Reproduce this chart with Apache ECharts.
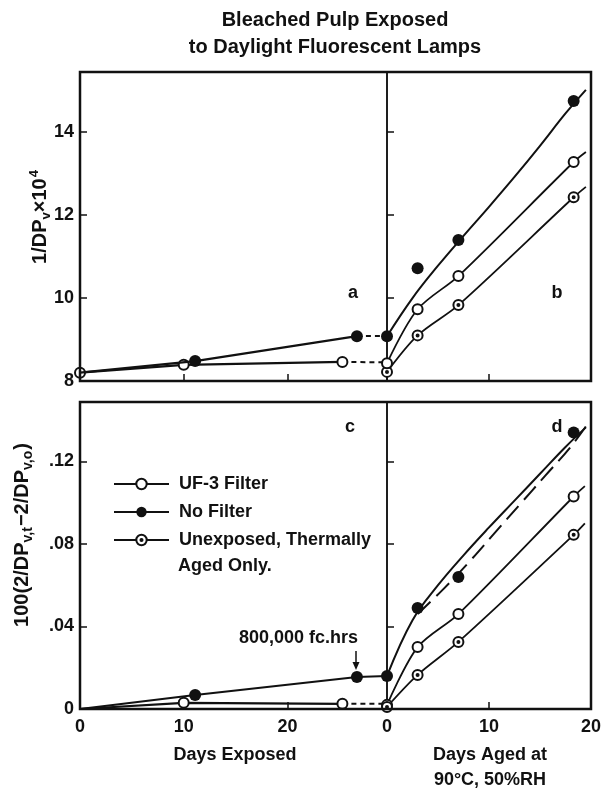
<!DOCTYPE html>
<html><head><meta charset="utf-8">
<script src="https://cdn.jsdelivr.net/npm/echarts@6/dist/echarts.min.js"></script>
<style>html,body{margin:0;padding:0;background:#fff}#c{width:609px;height:793px}</style>
</head><body><div id="c"></div>
<script>
// ---------------- DATA ----------------
// x: days exposed (left halves), days aged at 90°C, 50% RH (right halves)
const exposedMax = 29.6;
const agedMax = 20;
const topYMin = 8, topYMax = 15.45;
const botYMin = 0, botYMax = 0.1488;

// Panel a: 1/DPv x 10^4 vs days exposed
const aUF3 = [[0, 8.2], [10, 8.39], [25.3, 8.46]];
const aUF3Tail = [[25.3, 8.46], [29.6, 8.45]];
const aNoFilter = [[0, 8.2], [11.1, 8.48], [26.7, 9.08]];
const aNoFilterTail = [[26.7, 9.08], [29.6, 9.09]];

// Panel b: 1/DPv x 10^4 vs days aged
const bNoFilterPts = [[0, 9.08], [3, 10.72], [7, 11.4], [18.3, 14.75]];
const bNoFilterFit = [[0, 9.08], [2.5, 10.0], [5, 10.78], [7.5, 11.5], [10, 12.2], [12.5, 12.92], [15, 13.67], [17.5, 14.45], [19.5, 15.02]];
const bUF3 = [[0, 8.43], [3, 9.73], [7, 10.53], [18.3, 13.28]];
const bUF3End = [19.5, 13.52];
const bUnexposed = [[0, 8.22], [3, 9.1], [7, 9.83], [18.3, 12.43]];
const bUnexposedEnd = [19.5, 12.68];

// Panel c: 100(2/DPv,t - 2/DPv,o) vs days exposed
const cNoFilter = [[0, 0], [11.1, 0.0068], [26.7, 0.0155]];
const cNoFilterTail = [[26.7, 0.0155], [29.6, 0.016]];
const cUF3 = [[0, 0], [10, 0.003], [25.3, 0.0025]];
const cUF3Tail = [[25.3, 0.0025], [29.6, 0.0025]];

// Panel d: 100(2/DPv,t - 2/DPv,o) vs days aged
const dNoFilterPts = [[0, 0.016], [3, 0.049], [7, 0.064], [18.3, 0.134]];
const dNoFilterFit = [[0, 0.016], [2.5, 0.043], [5, 0.06], [7.5, 0.0745], [10, 0.088], [12.5, 0.101], [15, 0.114], [17.5, 0.127], [19.5, 0.1365]];
const dNoFilterDashed = [[3, 0.046], [5.5, 0.058], [8, 0.071], [10.5, 0.085], [13, 0.099], [15.5, 0.113], [18, 0.127], [19.5, 0.137]];
const dUF3 = [[0, 0.002], [3, 0.030], [7, 0.046], [18.3, 0.103]];
const dUF3End = [19.4, 0.108];
const dUnexposed = [[0, 0.001], [3, 0.0165], [7, 0.0325], [18.3, 0.0844]];
const dUnexposedEnd = [19.4, 0.090];

const xTickInterval = 10;
const topYInterval = 2;
const botYInterval = 0.04;

// ---------------- LAYOUT / STYLE ----------------
const FONT = 'Liberation Sans';
const INK = '#111';
const L = 80, DIV = 387, R = 591;
const T1 = 72, B1 = 381, T2 = 402, B2 = 709;

const grids = [
  {left: L, top: T1, width: DIV - L, height: B1 - T1},
  {left: DIV, top: T1, width: R - DIV, height: B1 - T1},
  {left: L, top: T2, width: DIV - L, height: B2 - T2},
  {left: DIV, top: T2, width: R - DIV, height: B2 - T2}
].map(g => Object.assign(g, {show: true, borderColor: INK, borderWidth: 1.5, containLabel: false}));

const labelStyle = {fontFamily: FONT, fontWeight: 'bold', fontSize: 18, color: INK};
const tick = {show: true, inside: true, length: 7, lineStyle: {color: INK, width: 1.5}};

function xAx(gi, max, showLabels) {
  return {type: 'value', gridIndex: gi, min: 0, max: max, interval: xTickInterval,
    axisLine: {show: false}, axisTick: tick, splitLine: {show: false},
    axisLabel: Object.assign({show: showLabels, margin: 9, showMaxLabel: max === agedMax,
      formatter: v => (Math.abs(v % 10) < 1e-9 ? String(Math.round(v)) : '')}, labelStyle)};
}
function yAx(gi, min, max, interval, showLabels, fmt) {
  return {type: 'value', gridIndex: gi, min: min, max: max, interval: interval,
    axisLine: {show: false}, axisTick: tick, splitLine: {show: false},
    axisLabel: Object.assign({show: showLabels, margin: 6, showMaxLabel: false, formatter: fmt}, labelStyle)};
}
const topFmt = v => String(Math.round(v));
const botFmt = v => (Math.abs(v) < 1e-9 ? '0' : v.toFixed(2).replace(/^0/, ''));

const OPEN = {symbol: 'circle', symbolSize: 10, itemStyle: {color: '#fff', borderColor: INK, borderWidth: 2}};
const FILLED = {symbol: 'circle', symbolSize: 12, itemStyle: {color: INK, borderColor: INK, borderWidth: 0}};
const DOTTED = {symbol: 'path://M10,0A10,10,0,1,1,-10,0A10,10,0,1,1,10,0ZM2,0A2,2,0,1,1,-2,0A2,2,0,1,1,2,0Z',
  symbolSize: 10, symbolKeepAspect: true, itemStyle: {color: '#fff', borderColor: INK, borderWidth: 2}};

function lineS(name, gi, data, width, extra) {
  return Object.assign({
    name: name, type: 'line', xAxisIndex: gi, yAxisIndex: gi, data: data,
    showSymbol: false, symbol: 'none', clip: false, z: 3,
    lineStyle: {color: INK, width: width, type: 'solid'}, emphasis: {disabled: true}, silent: true
  }, extra || {});
}
function markedS(name, gi, data, width, sym, extra) {
  return Object.assign({
    name: name, type: 'line', xAxisIndex: gi, yAxisIndex: gi, data: data,
    showSymbol: true, clip: false, z: 5, symbol: sym.symbol, symbolSize: sym.symbolSize,
    symbolKeepAspect: true, itemStyle: sym.itemStyle,
    lineStyle: {color: INK, width: width, type: 'solid'}, emphasis: {disabled: true}, silent: true
  }, extra || {});
}
const SMOOTH = {smooth: 0.3};

const series = [
  // legend sources first
  markedS('UF-3 Filter', 0, aUF3, 2.2, OPEN),
  markedS('No Filter', 0, aNoFilter.map((p, i) => i === 0 ? {value: p, symbol: 'none'} : p), 2.2, FILLED, {z: 6}),
  markedS('Unexposed, Thermally', 1, bUnexposed.concat([{value: bUnexposedEnd, symbol: 'none'}]), 1.8, DOTTED, SMOOTH),
  // panel a tails
  lineS('a1', 0, aUF3Tail, 2, {lineStyle: {color: INK, width: 2, type: [5, 4]}}),
  lineS('a2', 0, aNoFilterTail, 2, {lineStyle: {color: INK, width: 2, type: [5, 4]}}),
  // panel b
  lineS('b1', 1, bNoFilterFit, 2, {smooth: 0.4}),
  markedS('b2', 1, bNoFilterPts, 0, FILLED, {lineStyle: {width: 0}, z: 6}),
  markedS('b3', 1, bUF3.concat([{value: bUF3End, symbol: 'none'}]), 1.8, OPEN, SMOOTH),
  // panel c
  markedS('c1', 2, cNoFilter.map((p, i) => i === 0 ? {value: p, symbol: 'none'} : p), 2.2, FILLED, {z: 6}),
  lineS('c2', 2, cNoFilterTail, 2),
  markedS('c3', 2, cUF3.map((p, i) => i === 0 ? {value: p, symbol: 'none'} : p), 2.2, OPEN),
  lineS('c4', 2, cUF3Tail, 2, {lineStyle: {color: INK, width: 2, type: [5, 4]}}),
  // panel d
  lineS('d1', 3, dNoFilterFit, 2, {smooth: 0.4}),
  lineS('d2', 3, dNoFilterDashed, 2, {smooth: 0.4, lineStyle: {color: INK, width: 2, type: [18, 8]}}),
  markedS('d3', 3, dNoFilterPts, 0, FILLED, {lineStyle: {width: 0}, z: 6}),
  markedS('d4', 3, dUF3.concat([{value: dUF3End, symbol: 'none'}]), 1.8, OPEN, SMOOTH),
  markedS('d5', 3, dUnexposed.concat([{value: dUnexposedEnd, symbol: 'none'}]), 1.8, DOTTED, SMOOTH)
];

const txt = (x, y, text, size, align, extra) => ({
  type: 'text', x: x, y: y, silent: true, z: 10,
  style: Object.assign({text: text, fontFamily: FONT, fontWeight: 'bold', fontSize: size, fill: INK,
    align: align || 'center', verticalAlign: 'middle'}, extra || {})
});

const graphic = [
  txt(335, 20, 'Bleached Pulp Exposed', 20),
  txt(335, 47, 'to Daylight Fluorescent Lamps', 20),
  // frames
  {type: 'rect', silent: true, z: 8, shape: {x: L, y: T1, width: R - L, height: B1 - T1}, style: {fill: 'none', stroke: INK, lineWidth: 2.5}},
  {type: 'rect', silent: true, z: 8, shape: {x: L, y: T2, width: R - L, height: B2 - T2}, style: {fill: 'none', stroke: INK, lineWidth: 2.5}},
  // y titles
  {type: 'text', x: 40, y: 217, rotation: Math.PI / 2, silent: true, z: 10,
    style: {text: '{n|1/DP}{s|v}{n|×10}{p|4}', align: 'center', verticalAlign: 'middle', fill: INK,
      rich: {n: {fontFamily: FONT, fontWeight: 'bold', fontSize: 20, fill: INK},
             s: {fontFamily: FONT, fontWeight: 'bold', fontSize: 13, fill: INK, padding: [12, 0, 0, 0]},
             p: {fontFamily: FONT, fontWeight: 'bold', fontSize: 13, fill: INK, padding: [0, 0, 12, 1]}}}},
  {type: 'text', x: 22, y: 535, rotation: Math.PI / 2, silent: true, z: 10,
    style: {text: '{n|100(2/DP}{s|v,t}{n|−2/DP}{s|v,o}{n|)}', align: 'center', verticalAlign: 'middle', fill: INK,
      rich: {n: {fontFamily: FONT, fontWeight: 'bold', fontSize: 20, fill: INK},
             s: {fontFamily: FONT, fontWeight: 'bold', fontSize: 14, fill: INK, padding: [12, 1, 0, 0]}}}},
  // panel letters
  txt(353, 293, 'a', 18), txt(557, 293, 'b', 18), txt(350, 427, 'c', 18), txt(557, 427, 'd', 18),
  // annotation
  txt(358, 638, '800,000 fc.hrs', 18, 'right'),
  {type: 'line', silent: true, z: 10, shape: {x1: 356, y1: 651, x2: 356, y2: 664}, style: {stroke: INK, lineWidth: 1.5}},
  {type: 'polygon', silent: true, z: 10, shape: {points: [[352.5, 662], [359.5, 662], [356, 670]]}, style: {fill: INK}},
  // x titles
  txt(235, 755, 'Days Exposed', 18),
  txt(490, 755, 'Days Aged at', 18),
  txt(490, 780, '90°C, 50%RH', 18),
  // legend second line
  txt(178, 566, 'Aged Only.', 18, 'left')
];

const option = {
  animation: false,
  backgroundColor: '#fff',
  grid: grids,
  xAxis: [xAx(0, exposedMax, false), xAx(1, agedMax, false), xAx(2, exposedMax, true), xAx(3, agedMax, true)],
  yAxis: [yAx(0, topYMin, topYMax, topYInterval, true, topFmt), yAx(1, topYMin, topYMax, topYInterval, false, topFmt),
          yAx(2, botYMin, botYMax, botYInterval, true, botFmt), yAx(3, botYMin, botYMax, botYInterval, false, botFmt)],
  legend: {
    orient: 'vertical', left: 113, top: 475, itemWidth: 55, itemHeight: 13, itemGap: 10,
    selectedMode: false, padding: 0,
    textStyle: {fontFamily: FONT, fontWeight: 'bold', fontSize: 18, color: INK, padding: [0, 0, 0, 5]},
    data: ['UF-3 Filter', 'No Filter', 'Unexposed, Thermally']
  },
  series: series,
  graphic: graphic
};

const chart = echarts.init(document.getElementById('c'), null, {renderer: 'canvas'});
chart.setOption(option);
</script>
</body></html>
